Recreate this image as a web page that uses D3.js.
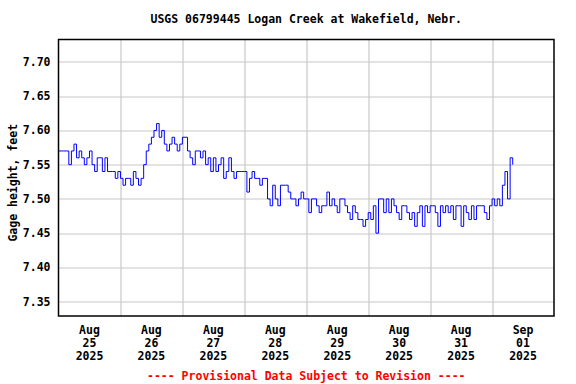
<!DOCTYPE html>
<html lang="en">
<head>
<meta charset="UTF-8">
<title>USGS 06799445 Logan Creek at Wakefield, Nebr.</title>
<script src="https://d3js.org/d3.v7.min.js"></script>
<style>
  body { margin: 0; background: #fff; }
  text { font-family: "DejaVu Sans Mono", monospace; font-weight: bold; font-size: 11.5px; }
</style>
</head>
<body>
<div id="chart"></div>
<script>
// hourly gage height readings starting Aug 25 2025 00:00 (feet)
const startDate = new Date(2025, 7, 25);
const endDate = new Date(2025, 8, 2);
const gageHeight = [
  7.57, 7.57, 7.57, 7.57, 7.55, 7.57, 7.58, 7.56, 7.57, 7.56, 7.55, 7.56,
  7.57, 7.55, 7.54, 7.56, 7.56, 7.54, 7.56, 7.54, 7.54, 7.54, 7.53, 7.54,
  7.53, 7.52, 7.53, 7.53, 7.52, 7.54, 7.53, 7.52, 7.53, 7.55, 7.57, 7.58,
  7.59, 7.60, 7.61, 7.59, 7.60, 7.58, 7.57, 7.58, 7.59, 7.58, 7.57, 7.58,
  7.59, 7.59, 7.57, 7.56, 7.55, 7.57, 7.57, 7.56, 7.57, 7.55, 7.56, 7.54,
  7.56, 7.54, 7.55, 7.56, 7.53, 7.54, 7.56, 7.54, 7.53, 7.54, 7.54, 7.54,
  7.54, 7.51, 7.53, 7.54, 7.53, 7.53, 7.52, 7.53, 7.53, 7.50, 7.49, 7.52,
  7.50, 7.49, 7.52, 7.52, 7.52, 7.51, 7.50, 7.50, 7.49, 7.50, 7.51, 7.50,
  7.50, 7.48, 7.50, 7.50, 7.49, 7.48, 7.49, 7.49, 7.51, 7.49, 7.50, 7.49,
  7.48, 7.50, 7.50, 7.49, 7.48, 7.47, 7.49, 7.48, 7.47, 7.47, 7.46, 7.47,
  7.48, 7.47, 7.49, 7.45, 7.50, 7.50, 7.48, 7.50, 7.48, 7.50, 7.49, 7.48,
  7.47, 7.49, 7.49, 7.48, 7.47, 7.48, 7.46, 7.48, 7.49, 7.46, 7.49, 7.48,
  7.49, 7.49, 7.48, 7.46, 7.49, 7.48, 7.49, 7.48, 7.49, 7.47, 7.49, 7.49,
  7.46, 7.49, 7.48, 7.47, 7.49, 7.47, 7.49, 7.49, 7.49, 7.48, 7.47, 7.49,
  7.50, 7.49, 7.50, 7.49, 7.52, 7.54, 7.50, 7.56, 7.55
];
const yTicks = [7.35, 7.40, 7.45, 7.50, 7.55, 7.60, 7.65, 7.70];
const dayLabels = ["Aug|25|2025", "Aug|26|2025", "Aug|27|2025", "Aug|28|2025",
                   "Aug|29|2025", "Aug|30|2025", "Aug|31|2025", "Sep|01|2025"];
const title = "USGS 06799445 Logan Creek at Wakefield, Nebr.";
const yLabel = "Gage height, feet";
const footer = "---- Provisional Data Subject to Revision ----";

const width = 576, height = 384;
const margin = { top: 39.5, right: 22, bottom: 68, left: 58.5 };
const plotW = width - margin.left - margin.right;
const plotH = height - margin.top - margin.bottom;

const data = gageHeight.map((v, i) => ({ t: d3.timeHour.offset(startDate, i), v: v }));

const svg = d3.select("#chart").append("svg")
  .attr("width", width).attr("height", height);

const x = d3.scaleTime().domain([startDate, endDate]).range([0, plotW]);
const y = d3.scaleLinear().domain([7.3291, 7.7327]).range([plotH, 0]);

const g = svg.append("g").attr("transform", `translate(${margin.left},${margin.top})`);

// grid
const days = d3.timeDay.range(startDate, endDate);
g.selectAll(".vgrid").data(days.slice(1)).enter().append("line")
  .attr("x1", d => Math.round(x(d)) + 0.5).attr("x2", d => Math.round(x(d)) + 0.5)
  .attr("y1", 0).attr("y2", plotH)
  .attr("stroke", "#c8c8c8").attr("stroke-width", 1.2);
g.selectAll(".hgrid").data(yTicks).enter().append("line")
  .attr("x1", 0).attr("x2", plotW)
  .attr("y1", d => Math.round(y(d)) + 0.5).attr("y2", d => Math.round(y(d)) + 0.5)
  .attr("stroke", "#c8c8c8").attr("stroke-width", 1.2);

// data line
const line = d3.line().x(d => x(d.t)).y(d => y(d.v)).curve(d3.curveStepAfter);
g.append("path").datum(data)
  .attr("fill", "none").attr("stroke", "#0000ff").attr("stroke-width", 1)
  .attr("d", line);

// frame
g.append("rect").attr("x", 0).attr("y", 0).attr("width", plotW).attr("height", plotH)
  .attr("fill", "none").attr("stroke", "#000").attr("stroke-width", 1.5);

// y axis labels
g.selectAll(".ytick").data(yTicks).enter().append("text")
  .attr("x", -8).attr("y", d => y(d)).attr("dy", "0.35em")
  .attr("text-anchor", "end").attr("fill", "#000")
  .text(d => d.toFixed(2));

// x axis labels, centred at noon of each day
const xl = g.selectAll(".xtick").data(days).enter().append("text")
  .attr("text-anchor", "middle").attr("fill", "#000")
  .attr("transform", d => `translate(${x(d3.timeHour.offset(d, 12))},${plotH + 18})`);
xl.selectAll("tspan").data((d, i) => dayLabels[i].split("|")).enter().append("tspan")
  .attr("x", 0).attr("y", (d, i) => i * 13).text(d => d);

svg.append("text").attr("x", margin.left + plotW / 2).attr("y", 23)
  .attr("text-anchor", "middle").text(title);

svg.append("text")
  .attr("transform", `translate(17,${margin.top + plotH / 2 + 5}) rotate(-90)`)
  .attr("text-anchor", "middle").text(yLabel);

svg.append("text").attr("x", margin.left + plotW / 2).attr("y", 379.5)
  .attr("text-anchor", "middle").attr("fill", "#ff0000").text(footer);
</script>
</body>
</html>
